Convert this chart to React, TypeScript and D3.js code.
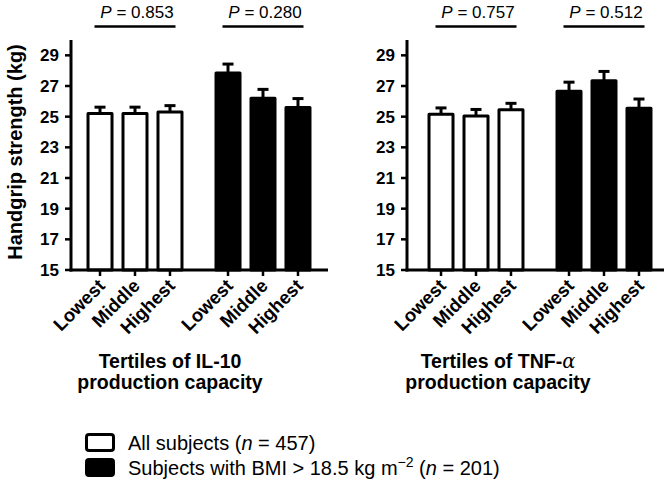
import * as d3 from "d3";

const tertiles = ["Lowest", "Middle", "Highest"];
const groups = ["all", "bmi"];
const yTicks = [15, 17, 19, 21, 23, 25, 27, 29];

// IL-10 panel
const il10All = [25.2, 25.2, 25.3];
const il10AllSe = [0.42, 0.42, 0.42];
const il10Bmi = [27.85, 26.2, 25.6];
const il10BmiSe = [0.58, 0.58, 0.58];
const il10P = ["0.853", "0.280"];

// TNF-alpha panel
const tnfAll = [25.15, 25.05, 25.45];
const tnfAllSe = [0.42, 0.42, 0.42];
const tnfBmi = [26.65, 27.35, 25.55];
const tnfBmiSe = [0.6, 0.6, 0.6];
const tnfP = ["0.757", "0.512"];

const legendLabels = ["All subjects", "Subjects with BMI > 18.5 kg m"];
const legendN = ["457", "201"];

const W = 669;
const H = 483;
const font = "'Liberation Sans', Arial, Helvetica, sans-serif";

const y = d3.scaleLinear().domain([15, 30]).range([270, 40]);

type PanelProps = {
  axisX: number;
  bandX: number;
  all: number[];
  allSe: number[];
  bmi: number[];
  bmiSe: number[];
  pvals: string[];
  showYTitle: boolean;
};

const Panel = ({ axisX, bandX, all, allSe, bmi, bmiSe, pvals, showYTitle }: PanelProps) => {
  const outer = d3.scaleBand().domain(groups).range([bandX, bandX + 256]).paddingInner(0.18).paddingOuter(0.09);
  const inner = d3.scaleBand().domain(tertiles).range([0, outer.bandwidth()]).paddingInner(0.314).paddingOuter(0.157);
  const series = [
    { g: "all", vals: all, se: allSe, fill: "#fff" },
    { g: "bmi", vals: bmi, se: bmiSe, fill: "#000" },
  ];
  const bw = inner.bandwidth();
  return (
    <g>
      {series.map((s) =>
        s.vals.map((v, i) => {
          const x = (outer(s.g) || 0) + (inner(tertiles[i]) || 0);
          const cx = x + bw / 2;
          const top = y(v + s.se[i]);
          return (
            <g key={s.g + i}>
              <line x1={cx} x2={cx} y1={y(v)} y2={top} stroke="#000" strokeWidth={3} />
              <line x1={cx - 5.5} x2={cx + 5.5} y1={top} y2={top} stroke="#000" strokeWidth={3} />
              <rect x={x} y={y(v)} width={bw} height={y(15) - y(v)} fill={s.fill} stroke="#000" strokeWidth={3} strokeLinejoin="round" />
            </g>
          );
        })
      )}
      {/* axes */}
      <line x1={axisX} x2={axisX} y1={40} y2={271.5} stroke="#000" strokeWidth={3} />
      <line x1={axisX - 1.5} x2={axisX + 257} y1={270} y2={270} stroke="#000" strokeWidth={3} />
      {yTicks.map((t) => (
        <g key={t}>
          <line x1={axisX - 6} x2={axisX} y1={y(t)} y2={y(t)} stroke="#000" strokeWidth={2.5} />
          <text x={axisX - 12} y={y(t)} dy="0.36em" textAnchor="end" fontSize={17} fontWeight="bold" fontFamily={font}>
            {t}
          </text>
        </g>
      ))}
      {groups.map((g) =>
        tertiles.map((t) => {
          const cx = (outer(g) || 0) + (inner(t) || 0) + bw / 2;
          return (
            <g key={g + t}>
              <line x1={cx} x2={cx} y1={270} y2={276} stroke="#000" strokeWidth={2.5} />
              <text
                transform={`translate(${cx + 6},${287}) rotate(-45)`}
                textAnchor="end"
                fontSize={18.5}
                fontWeight="bold"
                fontFamily={font}
              >
                {t}
              </text>
            </g>
          );
        })
      )}
      {/* P value brackets */}
      {groups.map((g, i) => {
        const c = (outer(g) || 0) + outer.bandwidth() / 2;
        return (
          <g key={"p" + g}>
            <line x1={c - 40.5} x2={c + 40.5} y1={26.5} y2={26.5} stroke="#000" strokeWidth={2.5} />
            <text x={c + 2} y={18} textAnchor="middle" fontSize={17} fontFamily={font}>
              <tspan fontStyle="italic">P</tspan> = {pvals[i]}
            </text>
          </g>
        );
      })}
      {showYTitle && (
        <text transform={`translate(22,152) rotate(-90)`} textAnchor="middle" fontSize={20} fontWeight="bold" fontFamily={font}>
          Handgrip strength (kg)
        </text>
      )}
    </g>
  );
};

export default function App() {
  return (
    <svg width={W} height={H} style={{ position: "absolute", left: 0, top: 0, background: "#fff" }}>
      <Panel axisX={71} bandX={71} all={il10All} allSe={il10AllSe} bmi={il10Bmi} bmiSe={il10BmiSe} pvals={il10P} showYTitle={true} />
      <Panel axisX={407} bandX={412} all={tnfAll} allSe={tnfAllSe} bmi={tnfBmi} bmiSe={tnfBmiSe} pvals={tnfP} showYTitle={false} />

      <g fontFamily={font} fontWeight="bold" fontSize={19.5} textAnchor="middle">
        <text x={170} y={368}>Tertiles of IL-10</text>
        <text x={170} y={389}>production capacity</text>
        <text x={498} y={368}>
          Tertiles of TNF-<tspan fontFamily="'DejaVu Serif', 'Liberation Serif', serif" fontStyle="italic" fontWeight="normal">α</tspan>
        </text>
        <text x={498} y={389}>production capacity</text>
      </g>

      {legendLabels.map((l, i) => (
        <g key={l} fontFamily={font} fontSize={20}>
          <rect x={86.5} y={434.5 + i * 25} width={27} height={16} rx={2.5} fill={i === 0 ? "#fff" : "#000"} stroke="#000" strokeWidth={3} />
          <text x={128} y={449.5 + i * 25.5}>
            {l}
            {i === 1 && (
              <tspan dy={-8} fontSize={14}>
                −2
              </tspan>
            )}
            <tspan dy={i === 1 ? 8 : 0}> (</tspan>
            <tspan fontStyle="italic">n</tspan> = {legendN[i]})
          </text>
        </g>
      ))}
    </svg>
  );
}
